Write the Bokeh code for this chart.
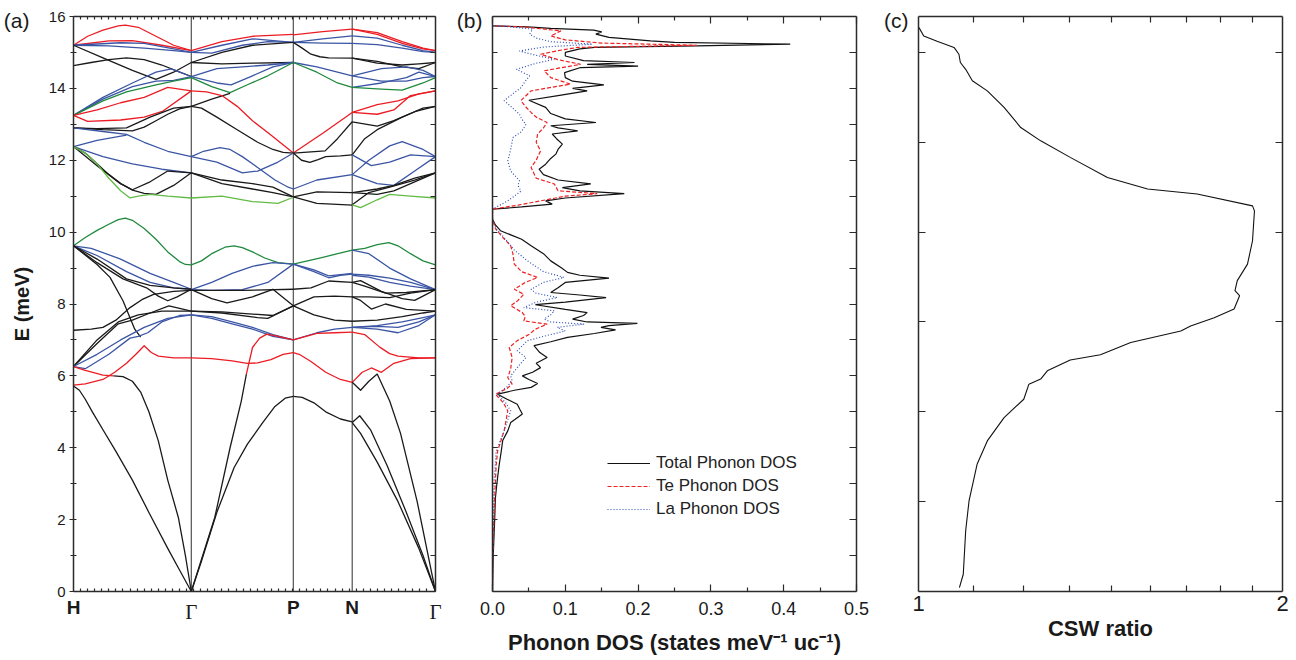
import math
import numpy as np
from bokeh.plotting import figure
from bokeh.layouts import row
from bokeh.models import (FixedTicker, LinearAxis, Span, Legend, LegendItem,
                          Range1d, LogScale, PrintfTickFormatter, CustomJSTickFormatter,
                          CustomLabelingPolicy)
from bokeh.core.properties import value
from bokeh.embed import file_html
from bokeh.resources import INLINE

# ---------------------------------------------------------------- data
kpath_labels = ["H", "Γ", "P", "N", "Γ"]
kpath_pos = [0.0, 1.0, 1.866, 2.366, 3.073]
E_major = [0, 2, 4, 6, 8, 10, 12, 14, 16]
E_minor = [1, 3, 5, 7, 9, 11, 13, 15]
panel_tags = ["(a)", "(b)", "(c)"]

# band branches per path segment: (character, fraction along segment, energy meV)
bands_H_G = [
    ("r", [0, 0.12, 0.25, 0.38, 0.44, 0.55, 0.7, 0.85, 1], [15.2, 15.45, 15.62, 15.74, 15.76, 15.7, 15.45, 15.2, 15.05]),
    ("r", [0, 0.3, 0.5, 0.75, 1], [15.2, 15.32, 15.33, 15.2, 15.05]),
    ("b", [0, 0.4, 0.6, 0.85, 1], [15.2, 15.27, 15.25, 15.1, 15.0]),
    ("b", [0, 0.3, 0.6, 0.85, 1], [15.2, 15.18, 15.12, 15.05, 15.0]),
    ("k", [0, 0.25, 0.5, 0.7, 0.85, 1], [15.2, 14.85, 14.5, 14.25, 14.45, 14.72]),
    ("k", [0, 0.15, 0.3, 0.45, 0.6, 0.75, 0.88, 1], [14.63, 14.72, 14.8, 14.85, 14.8, 14.65, 14.48, 14.33]),
    ("b", [0, 0.25, 0.5, 0.7, 0.83, 1], [13.25, 13.75, 14.15, 14.45, 14.54, 14.33]),
    ("b", [0, 0.25, 0.5, 0.7, 0.85, 1], [13.25, 13.7, 14.05, 14.2, 14.22, 14.33]),
    ("g", [0, 0.25, 0.45, 0.7, 0.85, 1], [13.25, 13.65, 13.9, 14.1, 14.2, 14.3]),
    ("r", [0, 0.2, 0.4, 0.6, 0.8, 1], [13.25, 13.4, 13.6, 13.75, 14.03, 13.93]),
    ("r", [0, 0.12, 0.4, 0.6, 0.76, 1], [13.25, 13.08, 13.12, 13.2, 13.37, 13.93]),
    ("k", [0, 0.25, 0.5, 0.6, 0.7, 0.8, 0.9, 1], [12.9, 12.85, 12.82, 12.92, 13.1, 13.28, 13.43, 13.5]),
    ("k", [0, 0.2, 0.45, 0.65, 0.85, 1], [12.9, 12.88, 12.9, 13.2, 13.45, 13.5]),
    ("b", [0, 0.25, 0.45, 0.6, 0.8, 1], [12.9, 12.8, 12.72, 12.5, 12.25, 12.1]),
    ("b", [0, 0.2, 0.45], [12.38, 12.55, 12.7]),
    ("b", [0, 0.25, 0.5, 0.75, 1], [12.38, 12.1, 11.9, 11.75, 11.65]),
    ("k", [0, 0.1, 0.2, 0.3, 0.4, 0.5, 0.6, 0.7, 0.85, 1], [12.38, 12.2, 11.9, 11.6, 11.35, 11.17, 11.08, 11.05, 11.3, 11.65]),
    ("k", [0, 0.2, 0.4, 0.5, 0.65, 0.8, 1], [12.38, 11.85, 11.35, 11.18, 11.4, 11.7, 11.65]),
    ("l", [0, 0.1, 0.2, 0.3, 0.4, 0.48, 0.55, 0.65, 0.8, 1], [12.38, 12.2, 11.9, 11.5, 11.15, 10.95, 11.0, 11.05, 11.0, 10.95]),
    ("g", [0, 0.1, 0.2, 0.3, 0.38, 0.44, 0.5, 0.6, 0.7, 0.8, 0.9, 0.95, 1], [9.62, 9.85, 10.05, 10.22, 10.35, 10.39, 10.33, 10.1, 9.8, 9.45, 9.18, 9.1, 9.09]),
    ("b", [0, 0.15, 0.4, 0.65, 0.85, 1], [9.62, 9.55, 9.25, 8.85, 8.6, 8.41]),
    ("b", [0, 0.2, 0.45, 0.65, 0.85, 1], [9.62, 9.35, 8.9, 8.6, 8.45, 8.41]),
    ("k", [0, 0.2, 0.45, 0.65, 0.85, 1], [9.62, 9.25, 8.7, 8.52, 8.45, 8.41]),
    ("k", [0, 0.2, 0.42, 0.62, 0.72, 0.8, 0.88, 1], [9.62, 9.15, 8.7, 8.45, 8.22, 8.09, 8.2, 8.41]),
    ("k", [0, 0.2, 0.31, 0.42, 0.52, 0.57], [9.62, 9.1, 8.74, 8.09, 7.3, 7.08]),
    ("k", [0, 0.15, 0.25, 0.36, 0.48, 0.58, 0.68, 0.85, 1], [7.27, 7.3, 7.35, 7.55, 7.9, 8.12, 8.27, 8.35, 8.38]),
    ("k", [0, 0.2, 0.38, 0.5, 0.65, 0.81, 1], [6.26, 6.9, 7.45, 7.55, 7.75, 7.95, 7.8]),
    ("k", [0, 0.2, 0.38, 0.55, 0.75, 1], [6.26, 7.0, 7.5, 7.7, 7.8, 7.8]),
    ("b", [0, 0.1, 0.3, 0.48, 0.55, 0.63, 0.75, 0.9, 1], [6.26, 6.2, 6.6, 7.05, 7.1, 7.2, 7.5, 7.68, 7.7]),
    ("b", [0, 0.2, 0.4, 0.6, 0.8, 1], [6.26, 6.6, 7.0, 7.35, 7.6, 7.7]),
    ("r", [0, 0.1, 0.25, 0.35, 0.45, 0.53, 0.6, 0.66, 0.72, 0.85, 1], [5.74, 5.78, 5.9, 6.1, 6.35, 6.6, 6.84, 6.65, 6.55, 6.5, 6.5]),
    ("r", [0, 0.1, 0.25, 0.34], [6.26, 6.15, 6.02, 6.0]),
    ("k", [0.34, 0.42, 0.5, 0.57, 0.64, 0.72, 0.8, 0.89, 0.95, 1], [6.0, 5.98, 5.85, 5.55, 5.0, 4.19, 3.1, 2.06, 1.0, 0.0]),
    ("k", [0, 0.05, 0.1, 0.16, 0.25, 0.36, 0.5, 0.64, 0.8, 0.9, 1], [5.72, 5.6, 5.35, 5.0, 4.5, 3.9, 3.1, 2.2, 1.2, 0.6, 0.0]),
]

bands_G_P = [
    ("r", [0, 0.3, 0.6, 1], [15.05, 15.3, 15.45, 15.5]),
    ("b", [0, 0.3, 0.6, 1], [15.0, 15.2, 15.38, 15.28]),
    ("b", [0, 0.2, 0.5, 0.75, 1], [15.0, 14.98, 15.2, 15.3, 15.28]),
    ("k", [0, 0.3, 0.6, 1], [14.72, 15.0, 15.2, 15.28]),
    ("k", [0, 0.3, 0.6, 1], [14.72, 14.68, 14.7, 14.72]),
    ("b", [0, 0.25, 0.5, 0.75, 1], [14.33, 14.55, 14.6, 14.65, 14.72]),
    ("b", [0, 0.25, 0.39, 0.6, 0.8, 1], [14.33, 14.15, 14.1, 14.35, 14.6, 14.72]),
    ("g", [0, 0.2, 0.38, 0.55, 0.75, 1], [14.3, 14.05, 13.88, 14.1, 14.35, 14.72]),
    ("k", [0, 0.2, 0.38], [13.5, 13.7, 13.86]),
    ("r", [0, 0.15, 0.3, 0.45, 0.6, 0.78, 1], [13.93, 13.9, 13.8, 13.5, 13.1, 12.7, 12.2]),
    ("k", [0, 0.1, 0.25, 0.45, 0.65, 0.8, 0.9, 1], [13.5, 13.45, 13.2, 12.85, 12.5, 12.3, 12.22, 12.2]),
    ("b", [0, 0.12, 0.28, 0.38, 0.5, 0.65, 0.82, 0.95, 1], [12.1, 12.25, 12.35, 12.3, 12.1, 11.8, 11.45, 11.25, 11.2]),
    ("b", [0, 0.25, 0.5, 0.65, 0.85, 1], [12.1, 11.95, 11.65, 11.7, 11.95, 12.2]),
    ("k", [0, 0.3, 0.6, 0.8, 1], [11.65, 11.45, 11.35, 11.25, 10.98]),
    ("k", [0, 0.3, 0.6, 0.8, 1], [11.65, 11.35, 11.2, 11.1, 10.98]),
    ("l", [0, 0.3, 0.6, 0.85, 1], [10.95, 11.0, 10.85, 10.8, 10.97]),
    ("g", [0, 0.1, 0.2, 0.33, 0.42, 0.5, 0.6, 0.72, 0.85, 1], [9.09, 9.2, 9.4, 9.58, 9.62, 9.57, 9.45, 9.28, 9.15, 9.11]),
    ("b", [0, 0.2, 0.4, 0.6, 0.8, 1], [8.4, 8.6, 8.85, 9.05, 9.15, 9.11]),
    ("b", [0, 0.2, 0.5, 0.75, 1], [8.4, 8.38, 8.4, 8.6, 9.11]),
    ("k", [0, 0.5, 1], [8.38, 8.38, 8.41]),
    ("k", [0, 0.2, 0.35, 0.6, 0.8, 1], [8.4, 8.15, 8.03, 8.2, 8.41, 7.95]),
    ("k", [0, 0.3, 0.6, 0.8, 1], [7.8, 7.78, 7.72, 7.68, 7.95]),
    ("k", [0, 0.3, 0.65, 0.75, 1], [7.8, 7.75, 7.62, 7.6, 7.95]),
    ("b", [0, 0.2, 0.4, 0.6, 0.8, 1], [7.7, 7.65, 7.5, 7.35, 7.15, 7.0]),
    ("b", [0, 0.2, 0.4, 0.6, 0.8, 1], [7.7, 7.6, 7.45, 7.3, 7.1, 7.0]),
    ("r", [0, 0.2, 0.4, 0.55, 0.65, 0.78, 0.9, 1], [6.5, 6.48, 6.42, 6.35, 6.36, 6.45, 6.6, 6.65]),
    ("k", [0, 0.23, 0.38, 0.49, 0.54], [0.0, 2.06, 4.0, 5.3, 6.05]),
    ("r", [0.54, 0.6, 0.67, 0.74, 0.85, 1], [6.05, 6.79, 7.05, 7.16, 7.1, 7.0]),
    ("k", [0, 0.1, 0.25, 0.42, 0.55, 0.7, 0.82, 0.92, 1], [0.0, 0.85, 2.2, 3.45, 4.1, 4.7, 5.15, 5.38, 5.43]),
]

bands_P_N = [
    ("r", [0, 0.5, 1], [15.49, 15.58, 15.65]),
    ("b", [0, 0.5, 1], [15.28, 15.38, 15.46]),
    ("b", [0, 0.5, 1], [15.28, 15.26, 15.25]),
    ("k", [0, 0.15, 0.3, 0.45, 0.6, 1], [15.28, 15.12, 14.95, 14.88, 14.85, 14.84]),
    ("b", [0, 0.4, 1], [14.72, 14.6, 14.35]),
    ("g", [0, 0.4, 0.75, 1], [14.72, 14.45, 14.15, 14.03]),
    ("r", [0, 0.5, 1], [12.2, 12.75, 13.33]),
    ("k", [0, 0.54, 0.75, 1], [12.2, 12.26, 12.6, 13.07]),
    ("k", [0, 0.14, 0.28, 0.42, 0.55, 0.8, 1], [12.2, 12.0, 11.94, 12.02, 12.1, 12.12, 12.15]),
    ("b", [0, 0.4, 1], [11.2, 11.45, 11.6]),
    ("k", [0, 0.4, 1], [10.98, 11.12, 11.1]),
    ("k", [0, 0.4, 1], [10.98, 10.8, 10.75]),
    ("g", [0, 0.5, 1], [9.11, 9.3, 9.5]),
    ("b", [0, 0.35, 0.6, 0.8, 1], [9.11, 8.9, 8.73, 8.8, 8.83]),
    ("b", [0, 0.35, 0.6, 0.8, 1], [9.11, 8.95, 8.78, 8.82, 8.85]),
    ("k", [0, 0.3, 0.6, 1], [8.41, 8.45, 8.64, 8.6]),
    ("k", [0, 0.35, 0.7, 1], [7.95, 8.2, 8.22, 8.2]),
    ("k", [0, 0.35, 0.7, 1], [7.95, 7.7, 7.55, 7.52]),
    ("b", [0, 0.4, 0.7, 1], [7.0, 7.2, 7.3, 7.35]),
    ("r", [0, 0.4, 0.7, 1], [7.0, 7.18, 7.2, 7.22]),
    ("r", [0, 0.1, 0.3, 0.55, 0.8, 1], [6.65, 6.6, 6.4, 6.1, 5.9, 5.82]),
    ("k", [0, 0.15, 0.35, 0.55, 0.8, 1], [5.43, 5.4, 5.25, 5.0, 4.8, 4.72]),
]

bands_N_G = [
    ("r", [0, 0.3, 0.6, 0.85, 1], [15.65, 15.55, 15.3, 15.12, 15.05]),
    ("r", [0, 0.3, 0.6, 0.85, 1], [15.65, 15.5, 15.25, 15.1, 15.05]),
    ("b", [0, 0.3, 0.6, 0.85, 1], [15.46, 15.4, 15.2, 15.05, 15.0]),
    ("b", [0, 0.3, 0.6, 0.85, 1], [15.25, 15.22, 15.12, 15.02, 15.0]),
    ("k", [0, 0.3, 0.6, 0.8, 1], [14.84, 14.75, 14.6, 14.55, 14.72]),
    ("k", [0, 0.3, 0.6, 0.8, 1], [14.84, 14.7, 14.65, 14.68, 14.72]),
    ("b", [0, 0.35, 0.65, 0.85, 1], [14.35, 14.55, 14.6, 14.5, 14.33]),
    ("b", [0, 0.35, 0.65, 0.85, 1], [14.35, 14.2, 14.2, 14.3, 14.33]),
    ("b", [0, 0.35, 0.65, 0.8, 1], [14.03, 14.15, 14.3, 14.45, 14.33]),
    ("g", [0, 0.35, 0.6, 0.85, 1], [14.03, 13.98, 13.95, 14.15, 14.3]),
    ("r", [0, 0.3, 0.55, 0.8, 1], [13.33, 13.55, 13.65, 13.85, 13.93]),
    ("r", [0, 0.3, 0.5, 0.7, 1], [13.33, 13.28, 13.4, 13.8, 13.93]),
    ("k", [0, 0.3, 0.5, 0.75, 1], [13.07, 12.95, 13.1, 13.35, 13.5]),
    ("k", [0, 0.15, 0.3, 0.6, 0.85, 1], [12.15, 12.6, 12.85, 13.2, 13.45, 13.5]),
    ("b", [0, 0.23, 0.45, 0.7, 1], [12.15, 11.85, 11.95, 12.15, 12.1]),
    ("b", [0, 0.2, 0.45, 0.6, 0.85, 1], [11.6, 12.0, 12.4, 12.52, 12.3, 12.1]),
    ("b", [0, 0.3, 0.5, 0.75, 1], [11.6, 11.35, 11.3, 11.7, 12.1]),
    ("k", [0, 0.3, 0.5, 0.75, 1], [11.1, 11.05, 11.15, 11.4, 11.65]),
    ("k", [0, 0.3, 0.5, 0.75, 1], [11.1, 11.2, 11.3, 11.5, 11.65]),
    ("k", [0, 0.2, 0.45, 0.75, 1], [10.76, 11.1, 11.25, 11.45, 11.65]),
    ("l", [0, 0.1, 0.3, 0.45, 0.7, 1], [10.76, 10.68, 10.9, 11.05, 11.0, 10.95]),
    ("g", [0, 0.15, 0.3, 0.44, 0.55, 0.7, 0.85, 1], [9.5, 9.55, 9.65, 9.71, 9.62, 9.4, 9.2, 9.09]),
    ("b", [0, 0.2, 0.45, 0.7, 1], [9.5, 9.4, 9.0, 8.7, 8.4]),
    ("b", [0, 0.2, 0.45, 0.7, 1], [8.83, 8.8, 8.72, 8.6, 8.4]),
    ("b", [0, 0.2, 0.45, 0.7, 1], [8.8, 8.75, 8.6, 8.5, 8.4]),
    ("k", [0, 0.1, 0.35, 0.6, 0.75, 1], [8.6, 8.65, 8.35, 8.15, 8.1, 8.4]),
    ("k", [0, 0.15, 0.4, 0.65, 1], [8.6, 8.5, 8.3, 8.32, 8.4]),
    ("k", [0, 0.1, 0.23, 0.4, 0.65, 1], [8.2, 8.1, 7.86, 8.0, 7.85, 7.8]),
    ("k", [0, 0.2, 0.45, 0.7, 1], [8.2, 8.2, 8.18, 8.3, 8.4]),
    ("k", [0, 0.3, 0.6, 0.85, 1], [7.52, 7.55, 7.65, 7.75, 7.8]),
    ("b", [0, 0.3, 0.6, 0.85, 1], [7.35, 7.4, 7.5, 7.62, 7.7]),
    ("b", [0, 0.3, 0.55, 0.8, 1], [7.35, 7.3, 7.2, 7.4, 7.7]),
    ("b", [0, 0.3, 0.55, 0.8, 1], [7.35, 7.38, 7.35, 7.5, 7.7]),
    ("r", [0, 0.15, 0.33, 0.45, 0.55, 0.8, 1], [7.22, 7.15, 6.8, 6.62, 6.55, 6.5, 6.5]),
    ("r", [0, 0.12, 0.23, 0.35, 0.5, 0.7, 1], [5.82, 6.1, 6.22, 6.1, 6.35, 6.48, 6.5]),
    ("k", [0, 0.1, 0.2, 0.3, 0.45, 0.58, 0.78, 1], [5.82, 5.6, 5.85, 6.05, 5.3, 4.4, 2.5, 0.0]),
    ("k", [0, 0.1, 0.3, 0.55, 0.8, 1], [4.7, 4.4, 3.6, 2.5, 1.2, 0.0]),
    ("k", [0, 0.09, 0.22, 0.42, 0.65, 0.85, 1], [4.7, 4.89, 4.5, 3.5, 2.2, 1.0, 0.0]),
]
band_segments = [bands_H_G, bands_G_P, bands_P_N, bands_N_G]

# phonon DOS (states meV^-1 uc^-1) vs energy (meV)
dos_total_E = [0.0, 0.5, 1.0, 1.5, 2.0, 2.6, 3.0, 3.5, 3.9, 4.2, 4.47, 4.7, 4.85, 4.94, 5.05, 5.21,
               5.35, 5.49, 5.6, 5.68, 5.79, 5.9, 6.0, 6.1, 6.23, 6.35, 6.51, 6.65, 6.84, 6.95, 7.07,
               7.18, 7.28, 7.35, 7.4, 7.46, 7.5, 7.58, 7.68, 7.76, 7.85, 7.98, 8.05, 8.18, 8.25, 8.32,
               8.45, 8.6, 8.72, 8.8, 8.88, 9.0, 9.2, 9.4, 9.62, 9.8, 10.04, 10.2, 10.36, 10.64, 10.7,
               10.78, 10.87, 10.95, 11.07, 11.15, 11.24, 11.34, 11.45, 11.6, 11.75, 11.89, 12.05,
               12.17, 12.3, 12.45, 12.6, 12.73, 12.82, 12.9, 12.96, 13.05, 13.15, 13.3, 13.47, 13.67,
               13.8, 13.93, 14.0, 14.1, 14.2, 14.3, 14.44, 14.58, 14.62, 14.67, 14.72, 14.77, 14.9,
               15.0, 15.1, 15.14, 15.18, 15.23, 15.28, 15.32, 15.42, 15.51, 15.57, 15.62, 15.67,
               15.71, 15.74]
dos_total = [0.0, 0.0005, 0.001, 0.002, 0.003, 0.004, 0.006, 0.009, 0.012, 0.014, 0.021, 0.025, 0.035,
             0.041, 0.038, 0.034, 0.02, 0.007, 0.03, 0.053, 0.062, 0.05, 0.041, 0.055, 0.066, 0.06,
             0.075, 0.065, 0.057, 0.08, 0.103, 0.14, 0.169, 0.149, 0.16, 0.199, 0.13, 0.11, 0.125,
             0.13, 0.1, 0.059, 0.1, 0.156, 0.12, 0.08, 0.09, 0.1, 0.16, 0.12, 0.103, 0.095, 0.08,
             0.07, 0.053, 0.04, 0.011, 0.004, 0.0, 0.0, 0.04, 0.082, 0.073, 0.1, 0.181, 0.12, 0.096,
             0.135, 0.09, 0.07, 0.064, 0.073, 0.08, 0.087, 0.09, 0.096, 0.088, 0.082, 0.117, 0.09,
             0.08, 0.142, 0.1, 0.08, 0.073, 0.05, 0.09, 0.13, 0.11, 0.153, 0.11, 0.1, 0.099, 0.121,
             0.2, 0.13, 0.195, 0.125, 0.1, 0.1, 0.12, 0.14, 0.281, 0.409, 0.25, 0.217, 0.16, 0.142,
             0.15, 0.139, 0.08, 0.048, 0.0]

dos_te_E = [0.0, 1.0, 2.0, 2.6, 3.5, 3.91, 4.47, 5.03, 5.25, 5.49, 5.65, 5.77, 5.95, 6.2, 6.51, 6.79,
            6.98, 7.15, 7.3, 7.44, 7.53, 7.65, 7.76, 7.95, 8.1, 8.27, 8.41, 8.6, 8.74, 8.9, 9.11,
            9.4, 9.62, 9.9, 10.1, 10.36, 10.64, 10.75, 10.87, 11.0, 11.07, 11.15, 11.34, 11.5, 11.8,
            12.0, 12.26, 12.5, 12.73, 12.9, 13.05, 13.2, 13.33, 13.5, 13.66, 13.93, 14.12, 14.3,
            14.49, 14.67, 14.8, 14.95, 15.05, 15.14, 15.2, 15.26, 15.35, 15.46, 15.6, 15.71, 15.74]
dos_te = [0.0, 0.0005, 0.002, 0.003, 0.005, 0.007, 0.016, 0.021, 0.015, 0.004, 0.02, 0.027, 0.021,
          0.025, 0.027, 0.023, 0.034, 0.05, 0.059, 0.075, 0.043, 0.045, 0.041, 0.025, 0.035, 0.043,
          0.03, 0.045, 0.062, 0.04, 0.03, 0.028, 0.025, 0.012, 0.004, 0.0, 0.0, 0.035, 0.066, 0.1,
          0.144, 0.09, 0.085, 0.06, 0.053, 0.06, 0.066, 0.06, 0.062, 0.07, 0.075, 0.06, 0.053, 0.045,
          0.039, 0.053, 0.107, 0.08, 0.071, 0.121, 0.09, 0.066, 0.09, 0.117, 0.281, 0.15, 0.1, 0.08,
          0.094, 0.043, 0.0]

dos_la_E = [0.0, 1.0, 2.0, 3.0, 3.9, 4.47, 5.03, 5.25, 5.49, 5.7, 5.86, 6.0, 6.23, 6.51, 6.7, 6.98,
            7.1, 7.25, 7.35, 7.44, 7.5, 7.58, 7.7, 7.81, 7.9, 8.05, 8.18, 8.3, 8.41, 8.6, 8.74, 8.9,
            9.2, 9.5, 9.85, 10.1, 10.36, 10.64, 10.75, 10.87, 11.0, 11.14, 11.3, 11.43, 11.7, 11.98,
            12.3, 12.63, 12.8, 13.0, 13.15, 13.28, 13.5, 13.66, 13.85, 14.02, 14.2, 14.35, 14.53,
            14.7, 14.81, 14.92, 15.04, 15.15, 15.23, 15.3, 15.4, 15.51, 15.65, 15.72, 15.74]
dos_la = [0.0, 0.0005, 0.001, 0.002, 0.005, 0.016, 0.025, 0.018, 0.007, 0.02, 0.027, 0.025, 0.034,
          0.046, 0.034, 0.048, 0.07, 0.1, 0.089, 0.126, 0.08, 0.071, 0.08, 0.085, 0.043, 0.06, 0.089,
          0.06, 0.053, 0.07, 0.098, 0.07, 0.048, 0.03, 0.016, 0.005, 0.0, 0.0, 0.01, 0.021, 0.03,
          0.039, 0.035, 0.037, 0.025, 0.021, 0.025, 0.028, 0.04, 0.046, 0.04, 0.037, 0.025, 0.016,
          0.028, 0.039, 0.045, 0.051, 0.033, 0.06, 0.085, 0.06, 0.037, 0.07, 0.137, 0.08, 0.06,
          0.051, 0.055, 0.02, 0.0]

dos_ticks = [0.0, 0.1, 0.2, 0.3, 0.4, 0.5]
dos_minor = [0.05, 0.15, 0.25, 0.35, 0.45]
legend_labels = ["Total Phonon DOS", "Te Phonon DOS", "La Phonon DOS"]

# CSW ratio vs energy
csw_E = [0.11, 0.48, 1.69, 2.52, 3.54, 4.19, 4.84, 5.35, 5.77, 5.91, 6.14, 6.44, 6.59, 6.93, 7.25,
         7.39, 7.62, 7.86, 8.23, 8.37, 8.65, 9.11, 9.76, 10.59, 10.73, 11.06, 11.2, 11.52, 12.08,
         12.54, 12.91, 13.47, 13.93, 14.21, 14.53, 14.72, 14.95, 15.14, 15.31, 15.46, 15.69]
csw_ratio = [1.081, 1.089, 1.094, 1.101, 1.118, 1.140, 1.177, 1.222, 1.234, 1.262, 1.278, 1.335,
             1.414, 1.498, 1.648, 1.679, 1.756, 1.824, 1.843, 1.827, 1.835, 1.871, 1.889, 1.896,
             1.889, 1.700, 1.547, 1.433, 1.335, 1.262, 1.215, 1.177, 1.140, 1.108, 1.094, 1.083,
             1.080, 1.070, 1.036, 1.010, 1.001]
csw_ticks = [1, 2]
csw_minor = [1 + k / 9 for k in range(1, 9)]
csw_E_ticks = [2.5, 5.0, 7.5, 10.0, 12.5, 15.0]

# ---------------------------------------------------------------- style
FONT = "Liberation Sans"
AX_COL = "#2b2b2b"
TXT = "#1a1a1a"
band_colors = {"k": "#1a1a1a", "r": "#ec1c24", "b": "#3b55a5", "g": "#1f8a3e", "l": "#62bb45"}
TAG_Y = 15.9
FIG_H = 660
HIDE_ALL = "for (const i of indices) { indices.unset(i) } return indices"


def tick_text(positions, labels):
    return CustomJSTickFormatter(args=dict(pos=list(positions), labs=list(labels)), code="""
        for (let i = 0; i < pos.length; i++) {
            if (Math.abs(tick - pos[i]) < 1e-6) { return labs[i]; }
        }
        return "";
    """)


def axis(ticks, minor, labels=False, size="15px", t_in=0, t_out=0, m_in=0, m_out=0,
         standoff=4, fmt=None, line=True, font=FONT, bold=False):
    ax = LinearAxis(ticker=FixedTicker(ticks=ticks, minor_ticks=minor))
    ax.axis_line_color = AX_COL if line else None
    ax.axis_line_width = 1.5
    ax.major_tick_line_color = AX_COL
    ax.minor_tick_line_color = AX_COL
    ax.major_tick_line_width = 1.2
    ax.minor_tick_line_width = 1.2
    ax.major_tick_in = t_in
    ax.major_tick_out = t_out
    ax.minor_tick_in = m_in
    ax.minor_tick_out = m_out
    ax.major_label_text_font = font
    ax.major_label_text_color = TXT
    ax.major_label_text_font_style = "bold" if bold else "normal"
    if labels:
        ax.major_label_text_font_size = size
        ax.major_label_standoff = standoff
        if fmt is not None:
            ax.formatter = fmt
    else:
        ax.major_label_text_font_size = "1px"
        ax.major_label_standoff = 0
        ax.formatter = CustomJSTickFormatter(code='return "";')
        ax.major_label_policy = CustomLabelingPolicy(code=HIDE_ALL)
    return ax


def set_title(ax, text, standoff, size="22px"):
    ax.axis_label = text
    ax.axis_label_text_font = FONT
    ax.axis_label_text_font_style = "bold"
    ax.axis_label_text_font_size = size
    ax.axis_label_text_color = TXT
    ax.axis_label_standoff = standoff


def tag_axis(text, standoff):
    ax = axis([TAG_Y], [], labels=True, size="21px", standoff=standoff, line=False,
              fmt=tick_text([TAG_Y], [text]))
    ax.major_tick_line_color = None
    return ax


def base_fig(width, left, right, x_range, **kw):
    p = figure(width=width, height=FIG_H, x_range=x_range, y_range=Range1d(0, 16),
               output_backend="svg", toolbar_location=None,
               min_border_left=left, min_border_right=right, min_border_top=16,
               min_border_bottom=69, x_axis_location=None, y_axis_location=None, **kw)
    p.outline_line_color = None
    p.grid.visible = False
    p.background_fill_color = "white"
    p.border_fill_color = "white"
    return p


# ---------------------------------------------------------------- panel (a)
pa = base_fig(450, 72, 15, Range1d(kpath_pos[0], kpath_pos[-1]))
for k in (1, 2, 3):
    pa.add_layout(Span(location=kpath_pos[k], dimension="height", line_color="#505050",
                       line_width=1.2, level="underlay"))
for seg, branches in enumerate(band_segments):
    x0, x1 = kpath_pos[seg], kpath_pos[seg + 1]
    for code, ts, es in branches:
        xs = [x0 + t * (x1 - x0) for t in ts]
        pa.line(xs, es, line_color=band_colors[code], line_width=1.3, line_join="round")

kx_minor = list(np.arange(0.06, kpath_pos[-1] - 0.02, 0.06))
left_a = axis(E_major, E_minor, labels=True, size="15px", t_in=3, t_out=4, m_in=3, m_out=3,
              standoff=4)
set_title(left_a, "E (meV)", 13, size="20px")
pa.add_layout(left_a, "left")
pa.add_layout(tag_axis(panel_tags[0], -22), "left")
pa.add_layout(axis(list(range(0, 17)), [], t_in=5), "right")

sans_pos = [x for x, lab in zip(kpath_pos, kpath_labels) if lab != "Γ"]
sans_labels = [lab for lab in kpath_labels if lab != "Γ"]
serif_pos = [x for x, lab in zip(kpath_pos, kpath_labels) if lab == "Γ"]
serif_labels = [lab for lab in kpath_labels if lab == "Γ"]
bottom_a = axis(sans_pos, kx_minor, labels=True, size="19px", m_in=3, standoff=5,
                fmt=tick_text(sans_pos, sans_labels), bold=True)
pa.add_layout(bottom_a, "below")
gamma_ax = axis(serif_pos, [], labels=True, size="21px", standoff=-21, line=False,
                fmt=tick_text(serif_pos, serif_labels), font="Liberation Serif")
gamma_ax.major_tick_line_color = None
pa.add_layout(gamma_ax, "below")
pa.add_layout(axis([], kx_minor, m_in=3), "above")

# ---------------------------------------------------------------- panel (b)
pb = base_fig(430, 42, 24, Range1d(0, 0.5))
r_tot = pb.line(dos_total, dos_total_E, line_color="#111111", line_width=1.2)
r_te = pb.line(dos_te, dos_te_E, line_color="#ee2020", line_width=1.2, line_dash="4 2")
r_la = pb.line(dos_la, dos_la_E, line_color="#2f4fb5", line_width=1.2, line_dash="1 2")

bottom_b = axis(dos_ticks, dos_minor, labels=True, size="18px", t_in=7, m_in=4, standoff=10,
                fmt=PrintfTickFormatter(format="%.1f"))
set_title(bottom_b, "Phonon DOS (states meV⁻¹ uc⁻¹)", 12)
pb.add_layout(bottom_b, "below")
pb.add_layout(axis(dos_ticks, dos_minor, t_in=7, m_in=4), "above")
pb.add_layout(axis(list(range(1, 16)), [], t_in=5), "left")
pb.add_layout(tag_axis(panel_tags[1], 10), "left")
pb.add_layout(axis(list(range(1, 16)), [], t_in=7), "right")

legend = Legend(items=[LegendItem(label=value(legend_labels[0]), renderers=[r_tot]),
                       LegendItem(label=value(legend_labels[1]), renderers=[r_te]),
                       LegendItem(label=value(legend_labels[2]), renderers=[r_la])],
                location=(115, 72))
legend.border_line_color = None
legend.background_fill_alpha = 0
legend.label_text_font = FONT
legend.label_text_font_size = "17px"
legend.label_text_color = "#222222"
legend.glyph_width = 43
legend.glyph_height = 20
legend.label_height = 20
legend.spacing = 3
legend.padding = 0
legend.margin = 0
legend.label_standoff = 6
pb.add_layout(legend)

# ---------------------------------------------------------------- panel (c)
pc = base_fig(416, 38, 14, Range1d(1, 2), x_axis_type="log")
pc.x_scale = LogScale()
pc.line(csw_ratio, csw_E, line_color="#111111", line_width=1.1)
bottom_c = axis(csw_ticks, csw_minor, labels=True, size="22px", m_in=6, standoff=4,
                fmt=PrintfTickFormatter(format="%d"))
set_title(bottom_c, "CSW ratio", 2)
pc.add_layout(bottom_c, "below")
pc.add_layout(axis(csw_ticks, csw_minor, m_in=6), "above")
pc.add_layout(axis(csw_E_ticks, [], t_in=7), "left")
pc.add_layout(tag_axis(panel_tags[2], 10), "left")
pc.add_layout(axis(csw_E_ticks, [], t_in=7), "right")

layout = row(pa, pb, pc, spacing=0)
open("out.html", "w").write(file_html(layout, INLINE))
